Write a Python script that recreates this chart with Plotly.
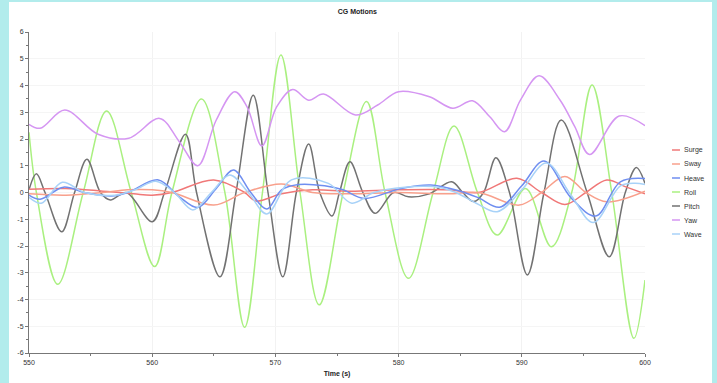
import plotly.graph_objects as go

# ---- data ----
roll_t = [550, 550.6, 552.33, 554.4, 556.3, 558.3, 560.2, 561.6, 564.0, 565.9, 567.5, 568.95, 570.45, 572.0,
          573.56, 575.5, 577.4, 578.9, 580.8, 582.8, 584.5, 586.4, 588.0, 590.3, 592.4, 594.05, 595.7, 597.3,
          599.1, 600]
roll_v = [2.25, 0, -3.43, 0, 3.05, 0, -2.77, 0, 3.5, 0, -5.04, 0, 5.14, 0,
          -4.2, 0, 3.4, 0, -3.21, 0, 2.49, 0, -1.59, 0.15, -2.03, 0, 4.02, 0,
          -5.45, -3.27]

pitch_t = [550, 550.6, 551.3, 552.65, 553.7, 554.7, 555.8, 556.6, 557.9, 560.0, 561.0, 562.7, 563.6, 565.5,
           566.8, 568.2, 569.4, 570.6, 571.7, 572.7, 573.6, 574.6, 575.2, 576.05, 577.1, 578.1, 579.6, 580.8,
           582.5, 584.3, 585.2, 586.1, 586.9, 587.9, 589.0, 590.45, 591.8, 593.2, 595.3, 597.1, 598.4, 599.3, 600]
pitch_v = [0.1, 0.7, 0, -1.47, 0, 1.24, 0, -0.28, 0.0, -1.09, 0, 2.18, 0, -3.15,
           0, 3.64, 0, -3.15, 0, 1.81, 0, -0.88, 0, 1.15, 0, -0.78, 0, -0.16,
           -0.05, 0.4, 0, -0.34, 0, 1.3, 0, -3.08, 0, 2.71, 0, -2.4, 0, 0.93, 0.34]

yaw_t = [550, 550.9, 552.9, 555.6, 558.1, 560.6, 562.2, 563.7, 565.2, 566.7, 567.7, 568.9, 570.1, 571.4, 572.7,
         573.9, 576.5, 578.3, 580.0, 582.5, 584.4, 586.0, 587.4, 588.6, 589.9, 591.4, 593.1, 594.3, 595.5,
         597.9, 600]
yaw_v = [2.55, 2.4, 3.08, 2.18, 2.03, 2.77, 1.9, 1.0, 2.71, 3.77, 3.2, 1.74, 3.2, 3.85, 3.45,
         3.68, 2.9, 3.27, 3.77, 3.58, 3.15, 3.43, 2.83, 2.27, 3.46, 4.36, 3.46, 2.46, 1.42,
         2.86, 2.5]

heave_t = [550, 550.9, 552.8, 554.5, 556.7, 558.0, 560.5, 562.2, 563.7, 565.2, 566.6, 568.0, 569.3, 570.5,
           571.9, 574.0, 575.5, 577.2, 580.2, 582.6, 585.0, 586.5, 588.2, 590.0, 591.8, 594.0, 596.0, 598.0, 600]
heave_v = [-0.1, -0.25, 0.2, 0.0, -0.13, 0.0, 0.47, -0.16, -0.56, 0.15, 0.84, 0.0, -0.62, 0.1,
           0.3, 0.25, 0.1, -0.22, 0.15, 0.28, 0.05, -0.2, -0.55, 0.25, 1.18, -0.2, -0.88, 0.4, 0.52]

wave_t = [550, 551.0, 552.7, 554.5, 557.0, 558.6, 560.3, 561.8, 563.3, 564.8, 566.3, 567.8, 569.3, 571.3,
          574.3, 576.2, 578.0, 580.5, 582.8, 584.5, 586.3, 588.0, 590.0, 592.0, 594.0, 595.8, 598.0, 599.2, 600]
wave_v = [-0.18, -0.4, 0.38, 0.0, -0.1, 0.1, 0.42, 0.0, -0.65, 0.0, 0.65, 0.0, -0.8, 0.47,
          0.34, -0.4, 0.0, 0.2, 0.22, 0.03, -0.4, -0.72, 0.1, 1.1, -0.1, -1.12, 0.25, 0.35, 0.3]

surge_t = [550, 553, 556, 558.5, 560, 561.6, 565, 567.5, 568.4, 570.5, 573, 576, 580, 584, 586.5,
           589.6, 591.6, 593.5, 595.2, 596.9, 598.5, 600]
surge_v = [0.12, 0.15, 0.05, -0.05, -0.1, 0.0, 0.47, 0.0, -0.32, -0.05, 0.1, 0.05, 0.1, 0.1, 0.0,
           0.53, 0.0, -0.45, 0.0, 0.47, 0.2, -0.05]

sway_t = [550, 553, 556, 558, 560, 561.6, 565, 567.5, 570.5, 573, 576, 580, 584, 586.5,
          589.8, 591.6, 593.5, 595.2, 596.9, 600]
sway_v = [-0.05, -0.1, 0.0, 0.1, 0.1, 0.0, -0.47, 0.0, 0.32, 0.0, -0.05, 0.0, -0.05, 0.0,
          -0.47, 0.0, 0.6, 0.0, -0.35, 0.05]

names = ["Surge", "Sway", "Heave", "Roll", "Pitch", "Yaw", "Wave"]
colors = ["#f07878", "#f8a08c", "#6f8ef0", "#aaf080", "#727272", "#d596f2", "#a8d2f8"]
series = [(surge_t, surge_v), (sway_t, sway_v), (heave_t, heave_v), (roll_t, roll_v),
          (pitch_t, pitch_v), (yaw_t, yaw_v), (wave_t, wave_v)]

x_ticks = [550, 560, 570, 580, 590, 600]
y_ticks = [-6, -5, -4, -3, -2, -1, 0, 1, 2, 3, 4, 5, 6]

FONT = "Liberation Sans"

W, H = 717, 383
L, R, T, B = 29, 72, 32, 30
pw = W - L - R
ph = H - T - B


def px(x):
    return (x - L) / pw


def py(y):
    return (H - B - y) / ph


fig = go.Figure()
order = [3, 4, 5, 0, 1, 2, 6]
for i in order:
    t, v = series[i]
    fig.add_trace(go.Scatter(x=t, y=v, mode="lines", name=names[i], showlegend=False,
                             line=dict(color=colors[i], width=1.5, shape="spline", smoothing=1.0)))

# white panel behind the chart
fig.add_shape(type="rect", xref="paper", yref="paper",
              x0=px(9), x1=px(712), y0=py(395), y1=py(2),
              fillcolor="white", line=dict(width=0), layer="below")

# compact legend (line sample + label per series)
leg_y0, leg_dy = 150, 14
for k, (nm, col) in enumerate(zip(names, colors)):
    yy = py(leg_y0 + k * leg_dy)
    fig.add_shape(type="line", xref="paper", yref="paper",
                  x0=px(672), x1=px(680), y0=yy, y1=yy,
                  line=dict(color=col, width=1.5))
    fig.add_annotation(xref="paper", yref="paper", x=px(682), y=yy, text=nm,
                       showarrow=False, xanchor="left", yanchor="middle",
                       font=dict(size=7, color="#333333", family=FONT))

fig.update_layout(
    width=W, height=H,
    margin=dict(l=L, r=R, t=T, b=B, pad=0, autoexpand=False),
    paper_bgcolor="#b2ecec",
    plot_bgcolor="rgba(0,0,0,0)",
    font=dict(family=FONT, size=7, color="#333333"),
    title=dict(text="<b>CG Motions</b>", x=px(336), xanchor="center",
               y=1 - 12 / H, yanchor="middle", font=dict(size=7, color="#222222")),
    showlegend=False,
    xaxis=dict(range=[550, 600], tickvals=x_ticks, ticktext=[str(v) for v in x_ticks],
               showgrid=True, gridcolor="#f2f2f2", gridwidth=1, zeroline=False,
               showline=True, linecolor="#777777", linewidth=1,
               ticks="outside", ticklen=3, tickcolor="#777777",
               minor=dict(dtick=5, ticks="outside", ticklen=2, tickcolor="#777777", showgrid=False),
               title=dict(text="<b>Time (s)</b>", font=dict(size=7, color="#222222"), standoff=5),
               tickfont=dict(size=7), automargin=False),
    yaxis=dict(range=[-6, 6], tickvals=y_ticks, ticktext=[str(v) for v in y_ticks],
               showgrid=True, gridcolor="#f5f5f5", gridwidth=1, zeroline=False,
               showline=True, linecolor="#777777", linewidth=1,
               ticks="outside", ticklen=3, tickcolor="#777777",
               minor=dict(dtick=0.5, ticks="outside", ticklen=2, tickcolor="#777777", showgrid=False),
               tickfont=dict(size=7), automargin=False),
)

fig.write_html("out.html",
               config={"displayModeBar": False},
               post_script="document.body.style.margin='0';document.body.style.padding='0';"
                           "document.body.style.overflow='hidden';")
